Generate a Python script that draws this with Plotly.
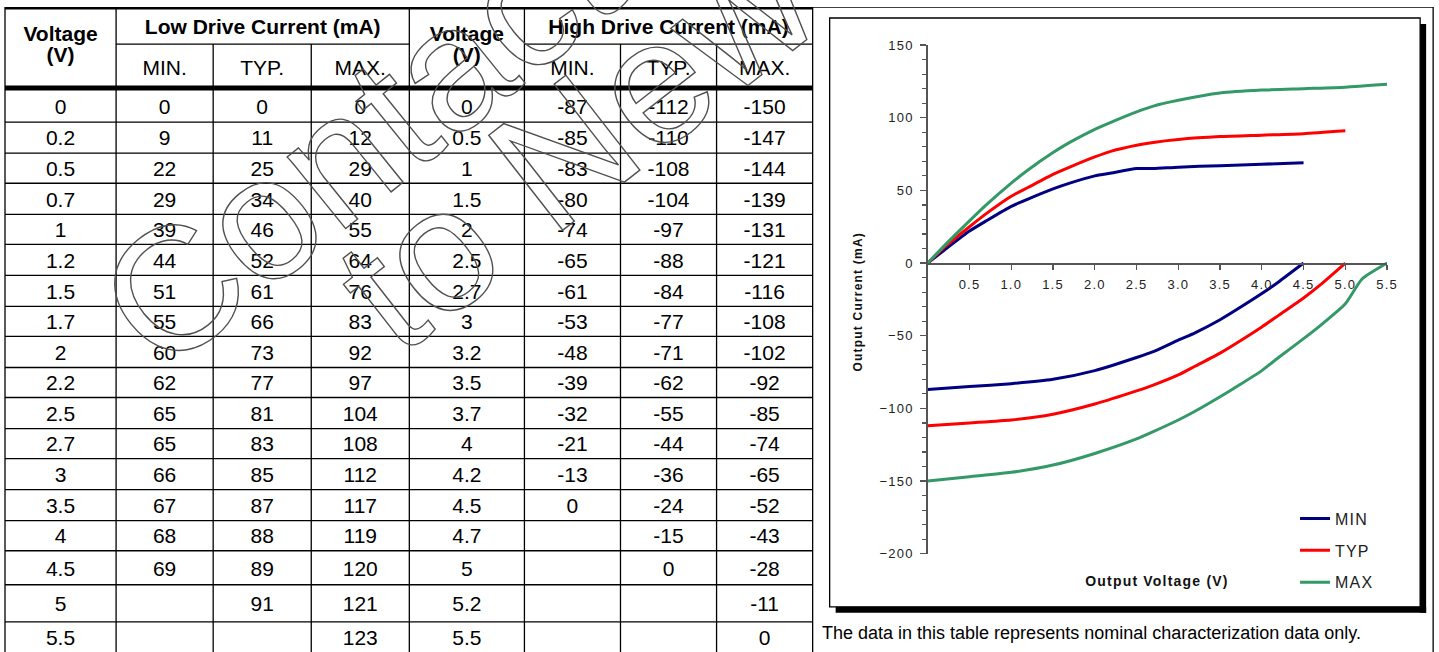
import plotly.graph_objects as go

# ---------------- data ----------------
low_voltage = [0, 0.2, 0.5, 0.7, 1, 1.2, 1.5, 1.7, 2, 2.2, 2.5, 2.7, 3, 3.5, 4, 4.5, 5, 5.5]
low_min = [0, 9, 22, 29, 39, 44, 51, 55, 60, 62, 65, 65, 66, 67, 68, 69, None, None]
low_typ = [0, 11, 25, 34, 46, 52, 61, 66, 73, 77, 81, 83, 85, 87, 88, 89, 91, None]
low_max = [0, 12, 29, 40, 55, 64, 76, 83, 92, 97, 104, 108, 112, 117, 119, 120, 121, 123]

high_voltage = [0, 0.5, 1, 1.5, 2, 2.5, 2.7, 3, 3.2, 3.5, 3.7, 4, 4.2, 4.5, 4.7, 5, 5.2, 5.5]
high_min = [-87, -85, -83, -80, -74, -65, -61, -53, -48, -39, -32, -21, -13, 0, None, None, None, None]
high_typ = [-112, -110, -108, -104, -97, -88, -84, -77, -71, -62, -55, -44, -36, -24, -15, 0, None, None]
high_max = [-150, -147, -144, -139, -131, -121, -116, -108, -102, -92, -85, -74, -65, -52, -43, -28, -11, 0]

series_names = ["MIN", "TYP", "MAX"]
sub_headers = ["MIN.", "TYP.", "MAX."]
group_headers = ["Low Drive Current (mA)", "High Drive Current (mA)"]
x_tick_values = [0.5, 1.0, 1.5, 2.0, 2.5, 3.0, 3.5, 4.0, 4.5, 5.0, 5.5]
x_range = [0, 5.5]
y_range = [-200, 150]
caption = "The data in this table represents nominal characterization data only."
watermark = ["Contact", "to New"]

# ---------------- layout / style ----------------
# Figure size and screen-mapping (page px -> picture px) compensation
FIG_W, FIG_H = 1449, 661
SX, SY, OY = 0.993, 0.976, 7.0
FONT = "Liberation Sans, Arial, Helvetica, sans-serif"
colors = ["#000080", "#FF0000", "#339966"]

# target positions (picture pixels)
col_edges = [5, 116, 213, 311, 409, 524, 620, 716, 812]
row_edges = [90, 122, 153, 183, 214, 244, 275, 306, 336, 367, 397, 428, 458,
             489, 520, 550, 584, 621, 652]
header_top, header_mid, header_bot = 6, 44, 88
text_dy = 2.5
frame_right = 1432

plot_px = dict(x0=927, x1=1386, y0=45, y1=553)   # chart plotting area
box_px = dict(x0=829, x1=1419, y0=18, y1=606)    # chart frame


def px_x(r):
    return (r / SX) / FIG_W


def px_y(r):
    return 1 - ((r - OY) / SY) / FIG_H


def fmt(v):
    return "" if v is None else f"{v:g}"


fig = go.Figure()

# ---------------- table (hidden axis pair in picture-pixel units) ----------------
table_columns = [low_voltage, low_min, low_typ, low_max,
                 high_voltage, high_min, high_typ, high_max]
row_centers = [(a + b) / 2 for a, b in zip(row_edges[:-1], row_edges[1:])]
col_centers = [(a + b) / 2 for a, b in zip(col_edges[:-1], col_edges[1:])]

tx, ty, tt = [], [], []
for ci, col in enumerate(table_columns):
    for ri, v in enumerate(col):
        if v is None:
            continue
        tx.append(col_centers[ci])
        ty.append(row_centers[ri] + text_dy)
        tt.append(fmt(v))

fig.add_trace(go.Scatter(
    x=tx, y=ty, text=tt, mode="text", xaxis="x2", yaxis="y2",
    textfont=dict(family=FONT, size=21, color="#000"),
    hoverinfo="skip", showlegend=False))

hx, hy, ht = [], [], []
for ci in (0, 4):
    hx += [col_centers[ci], col_centers[ci]]
    hy += [36, 57]
    ht += ["<b>Voltage</b>", "<b>(V)</b>"]
for gi, ci in enumerate((1, 5)):
    hx.append((col_edges[ci] + col_edges[ci + 3]) / 2)
    hy.append(29)
    ht.append("<b>" + group_headers[gi] + "</b>")
fig.add_trace(go.Scatter(
    x=hx, y=hy, text=ht, mode="text", xaxis="x2", yaxis="y2",
    textfont=dict(family=FONT, size=21, color="#000"),
    hoverinfo="skip", showlegend=False))

sx, sy, st = [], [], []
for base in (1, 5):
    for k, name in enumerate(sub_headers):
        sx.append(col_centers[base + k])
        sy.append(69.5)
        st.append(name)
fig.add_trace(go.Scatter(
    x=sx, y=sy, text=st, mode="text", xaxis="x2", yaxis="y2",
    textfont=dict(family=FONT, size=21, color="#000"),
    hoverinfo="skip", showlegend=False))

shapes = []


def line(x0, y0, x1, y1, w=1.3, c="#000"):
    shapes.append(dict(type="line", xref="x2", yref="y2", x0=x0, y0=y0, x1=x1, y1=y1,
                       line=dict(color=c, width=w)))


line(col_edges[0], header_top + 1, col_edges[-1], header_top + 1, w=5)
line(col_edges[0], header_bot, col_edges[-1], header_bot, w=5)
line(col_edges[-1], header_top + 1, frame_right, header_top + 1, w=1.3)
line(frame_right, header_top, frame_right, 660, w=1.3)
for ci in (1, 5):
    line(col_edges[ci], header_mid, col_edges[ci + 3], header_mid)
for i, xe in enumerate(col_edges):
    if i in (2, 3, 6, 7):
        line(xe, header_mid, xe, 660)
    else:
        line(xe, header_top, xe, 660)
for ye in row_edges[1:-1]:
    line(col_edges[0], ye, col_edges[-1], ye)

shapes.append(dict(type="rect", xref="x2", yref="y2", x0=box_px["x1"], x1=box_px["x1"] + 6,
                   y0=box_px["y0"] + 6, y1=box_px["y1"] + 6, fillcolor="#000", line=dict(width=0)))
shapes.append(dict(type="rect", xref="x2", yref="y2", x0=box_px["x0"] + 6, x1=box_px["x1"] + 6,
                   y0=box_px["y1"], y1=box_px["y1"] + 6, fillcolor="#000", line=dict(width=0)))
shapes.append(dict(type="rect", xref="x2", yref="y2", x0=box_px["x0"], x1=box_px["x1"],
                   y0=box_px["y0"], y1=box_px["y1"], line=dict(color="#000", width=1.3)))

# ---------------- chart traces ----------------
low_series = [low_min, low_typ, low_max]
high_series = [high_min, high_typ, high_max]
for i, name in enumerate(series_names):
    xs, ys = [], []
    for v, c in zip(low_voltage, low_series[i]):
        if c is not None:
            xs.append(v)
            ys.append(c)
    xs.append(None)
    ys.append(None)
    for v, c in zip(high_voltage, high_series[i]):
        if c is not None:
            xs.append(v)
            ys.append(c)
    fig.add_trace(go.Scatter(
        x=xs, y=ys, name=name, mode="lines", legendgroup=name,
        line=dict(color=colors[i], width=3, shape="spline", smoothing=0.55),
        cliponaxis=False, xaxis="x", yaxis="y"))

xdom = [px_x(plot_px["x0"]), px_x(plot_px["x1"])]
ydom = [px_y(plot_px["y1"]), px_y(plot_px["y0"])]
zero_pos = ydom[0] + (0 - y_range[0]) / (y_range[1] - y_range[0]) * (ydom[1] - ydom[0])

axis_col = "#555"
tickfont = dict(family=FONT, size=13, color="#222")

fig.update_layout(
    width=FIG_W, height=FIG_H, margin=dict(l=0, r=0, t=0, b=0),
    paper_bgcolor="white", plot_bgcolor="rgba(0,0,0,0)",
    shapes=shapes,
    xaxis=dict(domain=xdom, range=x_range, anchor="free", position=zero_pos,
               showgrid=False, zeroline=False, showline=True, linecolor=axis_col, linewidth=1.5,
               ticks="outside", ticklen=5, tickwidth=1.3, tickcolor=axis_col,
               tickvals=x_tick_values, tickformat=".1f", tickfont=tickfont,
               ticklabelstandoff=4),
    xaxis3=dict(domain=xdom, range=x_range, anchor="free", position=zero_pos, overlaying="x",
                showgrid=False, zeroline=False, showline=False,
                ticks="inside", ticklen=5, tickwidth=1.3, tickcolor=axis_col,
                tickvals=x_tick_values, showticklabels=False),
    yaxis=dict(domain=ydom, range=y_range, anchor="x",
               showgrid=False, zeroline=False, showline=True, linecolor=axis_col, linewidth=1.5,
               ticks="outside", ticklen=6, tickwidth=1.3, tickcolor=axis_col, dtick=50,
               tickfont=tickfont, ticklabelstandoff=4,
               minor=dict(dtick=10, ticks="outside", ticklen=4, tickwidth=1.2, tickcolor=axis_col)),
    yaxis3=dict(domain=ydom, range=y_range, anchor="x", overlaying="y",
                showgrid=False, zeroline=False, showline=False,
                ticks="inside", ticklen=6, tickwidth=1.3, tickcolor=axis_col, dtick=50,
                showticklabels=False,
                minor=dict(dtick=10, ticks="inside", ticklen=4, tickwidth=1.2, tickcolor=axis_col)),
    xaxis2=dict(domain=[0, 1], range=[0, FIG_W * SX], visible=False, fixedrange=True),
    yaxis2=dict(domain=[0, 1], range=[OY + SY * FIG_H, OY], visible=False, fixedrange=True,
                anchor="x2"),
    legend=dict(x=px_x(1294), xanchor="left", y=px_y(501), yanchor="top",
                font=dict(family=FONT, size=16, color="#222"),
                tracegroupgap=8, bgcolor="rgba(0,0,0,0)", itemwidth=30),
    annotations=[
        dict(text="<b>Output Current (mA)</b>", xref="paper", yref="paper",
             x=px_x(858), y=px_y(301), xanchor="center", yanchor="middle",
             textangle=-90, showarrow=False,
             font=dict(family=FONT, size=12, color="#111")),
        dict(text="<b>Output Voltage (V)</b>", xref="paper", yref="paper",
             x=px_x(1156), y=px_y(580), xanchor="center", yanchor="middle", showarrow=False,
             font=dict(family=FONT, size=14, color="#111")),
        dict(text=caption, xref="paper", yref="paper", x=px_x(819), y=px_y(632),
             xanchor="left", yanchor="middle", showarrow=False,
             font=dict(family=FONT, size=18, color="#000")),
        dict(text=watermark[0], xref="paper", yref="paper", x=px_x(358), y=px_y(140),
             xanchor="center", yanchor="middle", textangle=-39, showarrow=False,
             font=dict(family=FONT, size=175, color="rgba(255,255,255,0)")),
        dict(text=watermark[1], xref="paper", yref="paper", x=px_x(575), y=px_y(143),
             xanchor="center", yanchor="middle", textangle=-38, showarrow=False,
             font=dict(family=FONT, size=175, color="rgba(255,255,255,0)")),
    ],
)

post = """
document.documentElement.style.margin = '0';
document.documentElement.style.overflow = 'hidden';
document.body.style.margin = '0';
document.body.style.overflow = 'hidden';
var gd = document.getElementById('{plot_id}');
gd.style.position = 'fixed';
gd.style.left = '0px';
gd.style.top = '0px';
function fx(){
  gd.querySelectorAll('.annotation-text').forEach(function(t){
    var s = t.textContent;
    if (s === 'Contact' || s === 'to New'){
      t.style.fill = 'none'; t.style.stroke = '#505050'; t.style.strokeWidth = '1.4px';
    }
    if (s.indexOf('Output') === 0){ t.style.letterSpacing = '1.2px'; }
  });
  gd.querySelectorAll('.xtick text, .ytick text, .legendtext').forEach(function(t){
    t.style.letterSpacing = '1.2px';
  });
}
fx();
if (gd.on) { gd.on('plotly_afterplot', fx); }
setTimeout(fx, 50); setTimeout(fx, 300);
"""

fig.write_html("out.html", post_script=post, config={"displayModeBar": False, "staticPlot": True})
